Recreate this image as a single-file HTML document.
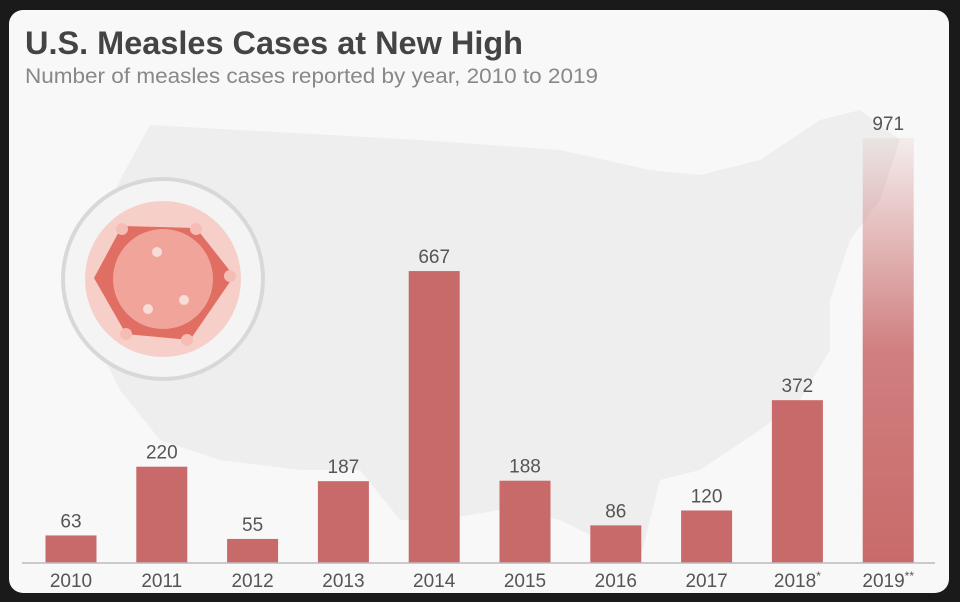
<!DOCTYPE html>
<html><head><meta charset="utf-8"><style>
html,body{margin:0;padding:0;background:#111;}
svg{display:block;}
text{font-family:"Liberation Sans",sans-serif;}
</style></head><body>
<svg width="960" height="602" viewBox="0 0 960 602">
<defs>
<linearGradient id="g19" x1="0" y1="0" x2="0" y2="1">
<stop offset="0" stop-color="#c96a6a" stop-opacity="0.08"/>
<stop offset="0.5" stop-color="#c96a6a" stop-opacity="0.85"/>
<stop offset="1" stop-color="#c96a6a"/>
</linearGradient>
</defs>
<rect x="0" y="0" width="960" height="602" fill="#1a1a1a"/>
<rect x="9" y="10" width="940" height="583" rx="14" fill="#f8f8f8"/>
<path fill="#eeeeee" d="M150 125 L420 140 L560 150 L650 170 L700 175 L760 160 L820 120 L860 110 L900 140 L880 200 L850 240 L830 300 L830 350 L800 400 L760 430 L700 470 L660 480 L640 560 L600 540 L560 520 L500 510 L440 520 L400 520 L360 470 L300 470 L220 460 L160 440 L120 390 L90 330 L90 250 L120 180 Z"/>
<text x="25" y="54" font-size="32" font-weight="bold" fill="#444" textLength="498" lengthAdjust="spacingAndGlyphs">U.S. Measles Cases at New High</text>
<text x="25" y="83" font-size="21" fill="#888" textLength="573" lengthAdjust="spacingAndGlyphs">Number of measles cases reported by year, 2010 to 2019</text>
<g>
<circle cx="163" cy="279" r="100" fill="#f4f4f4" stroke="#d8d8d8" stroke-width="4"/>
<circle cx="163" cy="279" r="78" fill="#f6cfc9"/>
<polygon points="122,226 196,228 234,276 190,340 126,334 94,278" fill="#e06e62"/>
<circle cx="163" cy="279" r="50" fill="#f0a49a"/>
<circle cx="122" cy="229" r="6" fill="#f6bdb5"/><circle cx="196" cy="229" r="6" fill="#f6bdb5"/>
<circle cx="230" cy="276" r="6" fill="#f6bdb5"/><circle cx="187" cy="340" r="6" fill="#f6bdb5"/>
<circle cx="126" cy="334" r="6" fill="#f6bdb5"/><circle cx="157" cy="252" r="5" fill="#f8dcd8"/>
<circle cx="184" cy="300" r="5" fill="#f8dcd8"/><circle cx="148" cy="309" r="5" fill="#f8dcd8"/>
</g>
<g id="bars"></g>
<line x1="22" y1="563" x2="935" y2="563" stroke="#bbb" stroke-width="1.5"/>
<script>
const categories=["2010","2011","2012","2013","2014","2015","2016","2017","2018","2019"];
const suffixes=["","","","","","","","","*","**"];
const values=[63,220,55,187,667,188,86,120,372,971];
const g=document.getElementById('bars');
const NS="http://www.w3.org/2000/svg";
const base=563, scale=425/971, x0=71, step=90.8, bw=51;
function xPos(i){return x0+i*step;}
function yPos(v){return base-v*scale;}
values.forEach((v,i)=>{
  const r=document.createElementNS(NS,'rect');
  
  
  r.setAttribute('x',xPos(i)-bw/2);r.setAttribute('y',yPos(v));
  r.setAttribute('width',bw);r.setAttribute('height',base-yPos(v));
  r.setAttribute('fill',i===9?'url(#g19)':'#c96a6a');
  g.appendChild(r);
  const t=document.createElementNS(NS,'text');
  
  
  t.setAttribute('x',xPos(i));t.setAttribute('y',yPos(v)-8);
  t.setAttribute('text-anchor','middle');t.setAttribute('font-size','19');t.setAttribute('fill','#555');
  t.textContent=v;g.appendChild(t);
  const c=document.createElementNS(NS,'text');
  
  
  c.setAttribute('x',xPos(i));c.setAttribute('y',587);
  c.setAttribute('text-anchor','middle');c.setAttribute('font-size','19');c.setAttribute('fill','#555');
  c.textContent=categories[i];
  if(suffixes[i]){const s=document.createElementNS(NS,'tspan');s.setAttribute('font-size','12');s.setAttribute('dy','-7');s.textContent=suffixes[i];c.appendChild(s);}
  g.appendChild(c);
});
</script>
</svg>
</body></html>
